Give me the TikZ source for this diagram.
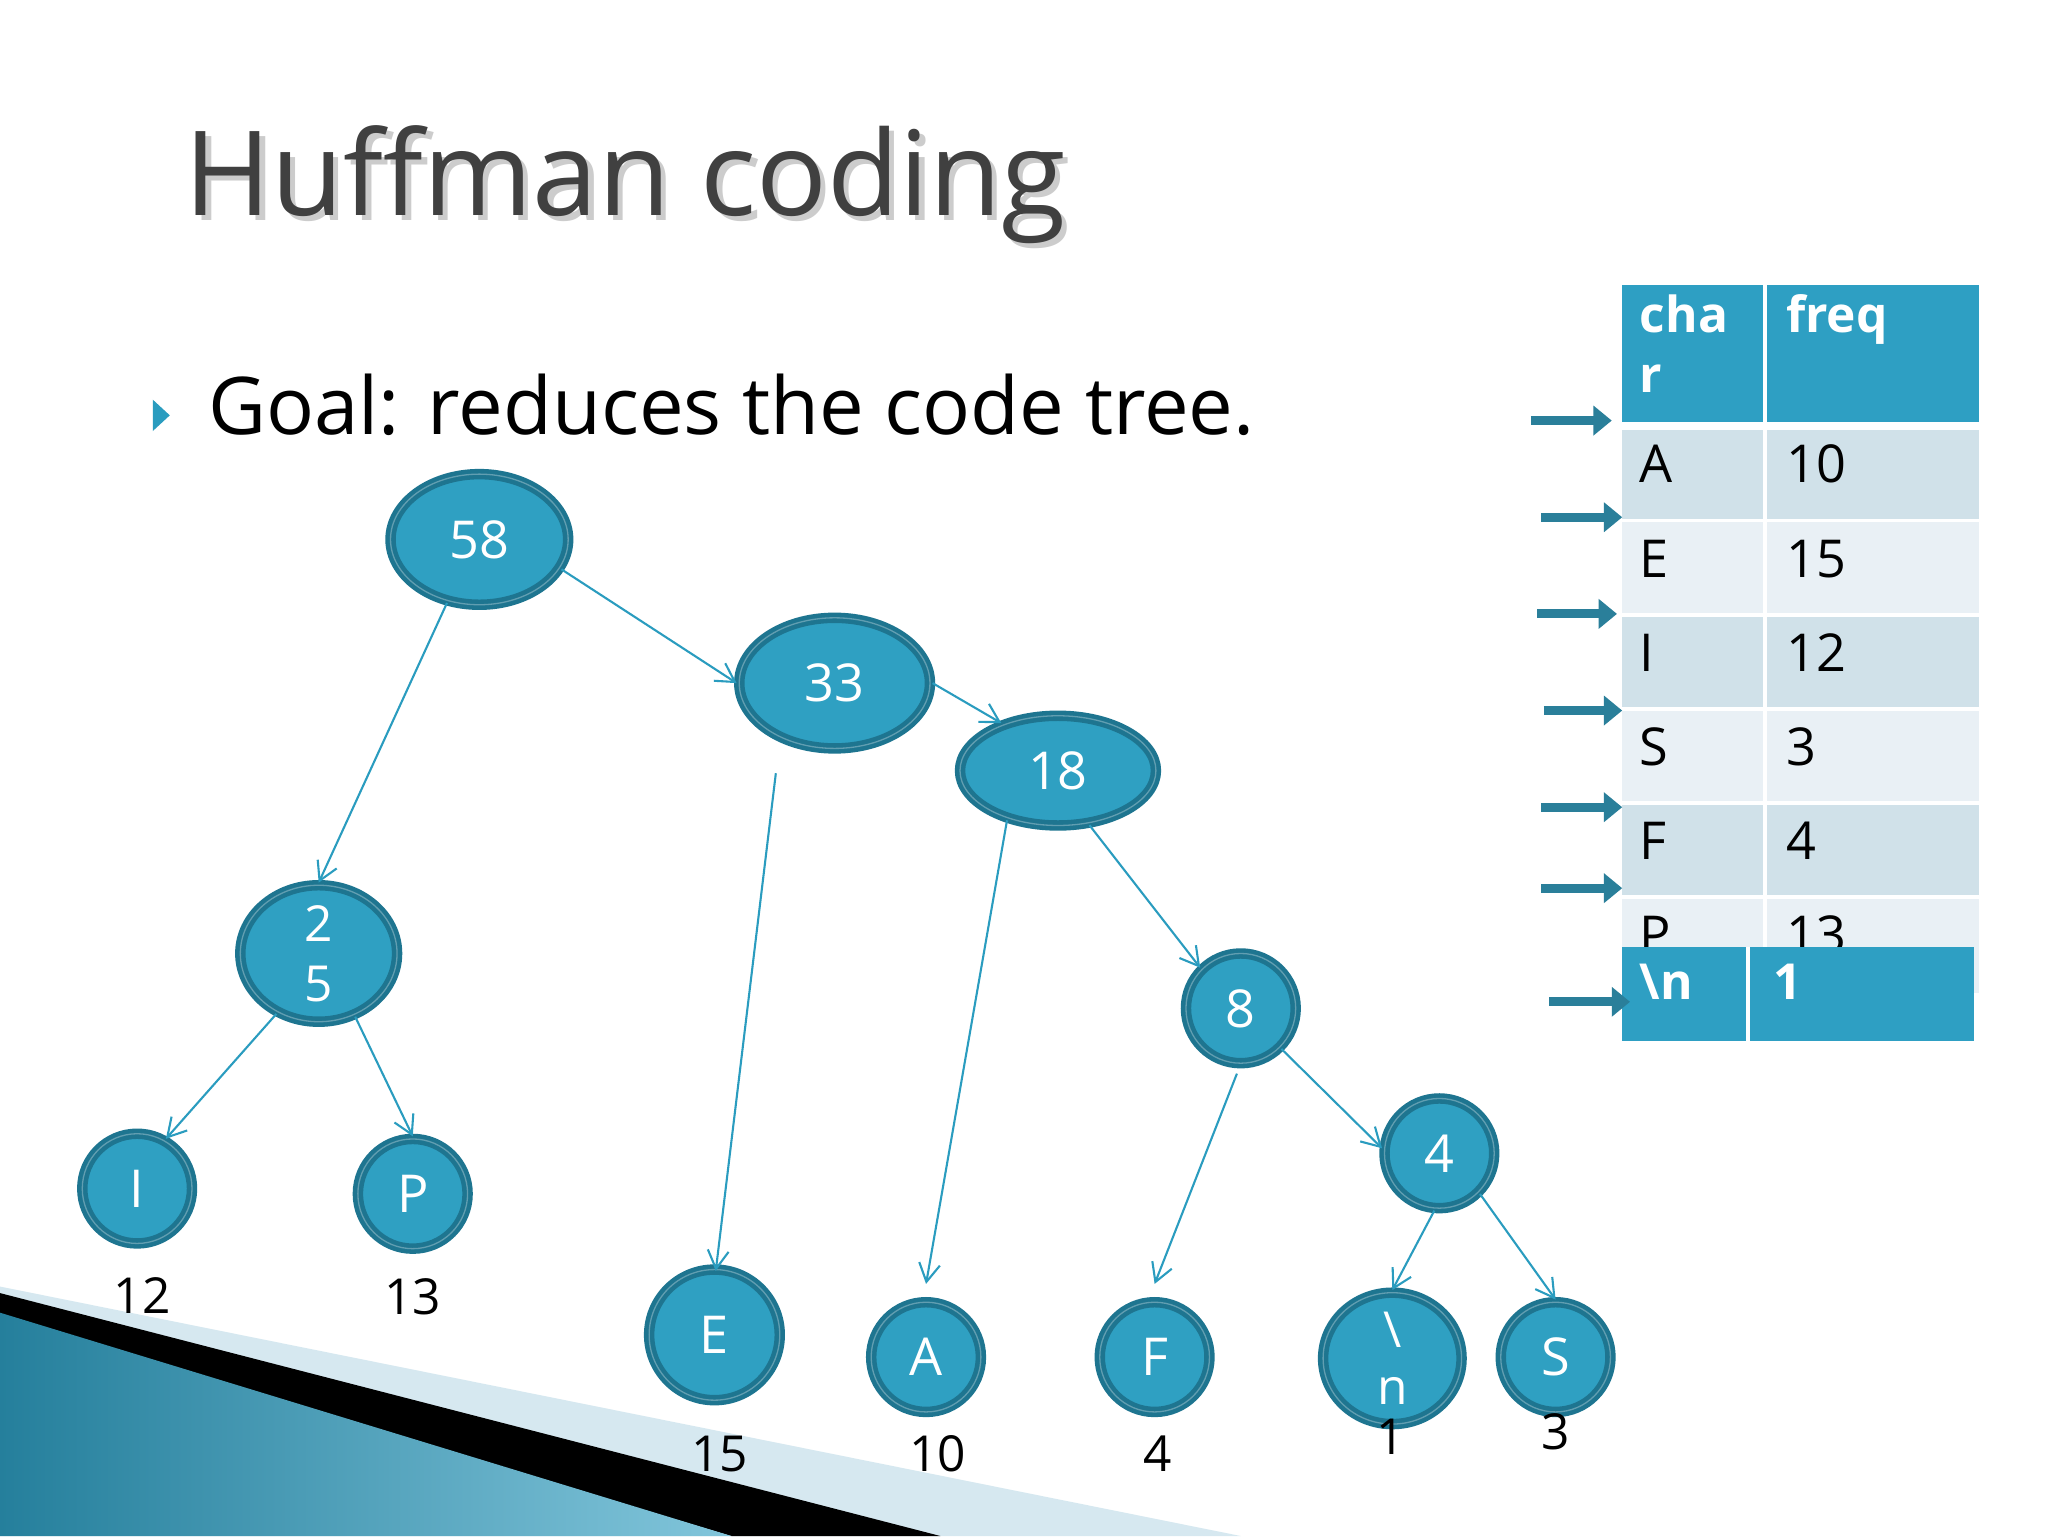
\documentclass[tikz,border=0pt]{standalone}
\usepackage{fontspec}
\setmainfont{Open Sans}
\usetikzlibrary{shapes.geometric,arrows.meta}
\definecolor{nfill}{HTML}{2FA0C2}
\definecolor{nline}{HTML}{1E7590}
\definecolor{edge}{HTML}{2A9CBF}
\definecolor{rowA}{HTML}{D0E1E9}
\definecolor{rowB}{HTML}{E9F0F5}
\definecolor{hdr}{HTML}{2E9FC3}
\definecolor{barr}{HTML}{2A7F9A}
\tikzset{
 tn/.style={ellipse,draw=nline,line width=4pt,fill=nfill,text=white,font=\fontsize{40}{40}\selectfont,inner sep=0pt,
   double=nfill,double distance=0pt,postaction={draw=nline!70,line width=1pt}},
 ed/.style={draw=edge,line width=1.6pt,-{Straight Barb[length=14pt,width=16pt]}},
 lab/.style={font=\fontsize{38}{38}\selectfont,text=black},
 ba/.style={draw=barr,line width=7pt,-{Triangle[length=14pt,width=22pt]}},
 cell/.style={font=\fontsize{40}{40}\selectfont,anchor=west}
}
\begin{document}
\begin{tikzpicture}[x=1pt,y=-1pt]
\useasboundingbox (0,0) rectangle (1568,1176);
\fill[white] (0,0) rectangle (1568,1176);
% decoration
\fill[rowB!90!hdr] (0,985) -- (950,1176) -- (0,1176) -- cycle;
\fill[black] (0,990) -- (720,1176) -- (560,1176) -- (0,1010) -- cycle;
\shade[left color=hdr!80!black, right color=hdr!60!white] (0,1005) -- (560,1176) -- (0,1176) -- cycle;
% title (with shadow)
\node[anchor=base west,text=gray!40,font=\fontsize{90}{90}\selectfont] at (142,169) {Huffman coding};
\node[anchor=base west,text=black!75,font=\fontsize{90}{90}\selectfont] (title) at (138,165) {Huffman coding};
\fill[edge] (117,306) -- (130,318) -- (117,330) -- cycle;
\node[anchor=base west,font=\fontsize{61}{61}\selectfont] (goal) at (156,333) {Goal: reduces the code tree.};
% nodes
\node[tn,minimum width=136pt,minimum height=100pt] (n58) at (367,413) {58};
\node[tn,minimum width=146pt,minimum height=100pt] (n33) at (639,523) {33};
\node[tn,minimum width=150pt,minimum height=84pt] (n18) at (810,590) {18};
\node[tn,minimum width=120pt,minimum height=86pt,align=center,font=\fontsize{38}{46}\selectfont] (n25) at (244,730) {2\\5};
\node[tn,minimum width=84pt,minimum height=84pt] (n8) at (950,772) {8};
\node[tn,minimum width=84pt,minimum height=84pt] (n4) at (1102,883) {4};
\node[tn,minimum width=84pt,minimum height=84pt] (nI) at (105,910) {I};
\node[tn,minimum width=84pt,minimum height=84pt] (nP) at (316,914) {P};
\node[tn,minimum width=100pt,minimum height=100pt] (nE) at (547,1022) {E};
\node[tn,minimum width=84pt,minimum height=84pt] (nA) at (709,1039) {A};
\node[tn,minimum width=84pt,minimum height=84pt] (nF) at (884,1039) {F};
\node[tn,minimum width=106pt,minimum height=80pt,align=center,font=\fontsize{38}{44}\selectfont] (nn) at (1066,1040) {\textbackslash\\n};
\node[tn,minimum width=84pt,minimum height=84pt] (nS) at (1191,1039) {S};
% edges
\draw[ed] (n58.243) -- (n25.north);
\draw[ed] (n58.-20) -- (n33.west);
\draw[ed] (n33.east) -- (n18.140);
\draw[ed] (n18.-60) -- (n8.135);
\draw[ed] (n8.-45) -- (n4.175);
\draw[ed] (n25.235) -- (nI.60);
\draw[ed] (n25.-60) -- (nP.north);
\draw[ed] (n4.-95) -- (nn.north);
\draw[ed] (n4.-45) -- (nS.north);
\coordinate (c1) at (594,592); \coordinate (c2) at (771,628); \coordinate (c3) at (947,822);
\coordinate (e1) at (548,973); \coordinate (e2) at (709,983); \coordinate (e3) at (884,983);
\draw[ed] (c1) -- (e1);
\draw[ed] (c2) -- (e2);
\draw[ed] (c3) -- (e3);
% labels
\node[lab] (l1) at (109,992) {12};
\node[lab] (l2) at (316,993) {13};
\node[lab] (l3) at (551,1113) {15};
\node[lab] (l4) at (718,1113) {10};
\node[lab] (l5) at (886,1113) {4};
\node[lab] (l6) at (1065,1100) {1};
\node[lab] (l7) at (1191,1096) {3};
% table
\fill[hdr] (1242,218) rectangle (1515,323);
\fill[rowA] (1242,329) rectangle (1515,397);
\fill[rowB] (1242,400) rectangle (1515,469);
\fill[rowA] (1242,472) rectangle (1515,541);
\fill[rowB] (1242,544) rectangle (1515,613);
\fill[rowA] (1242,616) rectangle (1515,685);
\fill[rowB] (1242,688) rectangle (1515,760);
\draw[white,line width=3pt] (1351,218) -- (1351,760);
\node[cell,text=white,align=left,font=\bfseries\fontsize{38}{46}\selectfont,anchor=north west] (h1) at (1252,222) {cha\\r};
\node[cell,text=white,font=\bfseries\fontsize{38}{38}\selectfont,anchor=north west] (h2) at (1364,222) {freq};
\foreach \c/\f/\y in {A/10/355,E/15/428,I/12/500,S/3/572,F/4/644,P/13/716}{
  \node[cell] at (1252,\y) {\c};
  \node[cell] at (1364,\y) {\f};
}
\fill[hdr] (1242,725) rectangle (1511,797);
\draw[white,line width=3pt] (1338,725) -- (1338,797);
\node[cell,text=white,font=\bfseries\fontsize{38}{38}\selectfont] (r1) at (1252,752) {\textbackslash n};
\node[cell,text=white,font=\bfseries\fontsize{38}{38}\selectfont] (r2) at (1354,752) {1};
% block arrows
\foreach \a/\b/\y in {1172/1234/322,1180/1242/396,1177/1238/470,1182/1242/544,1180/1242/618,1180/1242/680,1186/1248/767}{
  \coordinate (s) at (\a,\y); \coordinate (t) at (\b,\y);
  \draw[ba] (s) -- (t);
}
\end{tikzpicture}
\end{document}
